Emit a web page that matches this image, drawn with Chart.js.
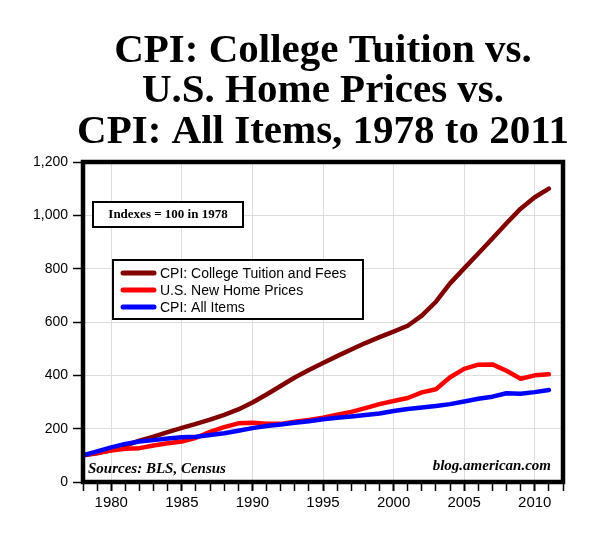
<!DOCTYPE html>
<html>
<head>
<meta charset="utf-8">
<script src="https://cdn.jsdelivr.net/npm/chart.js@4.4.0/dist/chart.umd.min.js"></script>
<style>
html,body{margin:0;padding:0;background:#fff;}
#wrap{width:610px;height:542px;position:relative;}
</style>
</head>
<body>
<div id="wrap"><canvas id="c"></canvas></div>
<script>
const years = [1978,1979,1980,1981,1982,1983,1984,1985,1986,1987,1988,1989,1990,1991,1992,1993,1994,1995,1996,1997,1998,1999,2000,2001,2002,2003,2004,2005,2006,2007,2008,2009,2010,2011];
const tuition = [100,108,120,136,155,170,187,203,218,234,252,272,298,328,360,392,420,446,472,497,521,543,564,586,624,676,745,801,857,913,970,1025,1068,1100];
const homePrices = [100,110,118,125,127,137,145,152,166,188,206,220,222,218,218,226,233,241,252,263,277,292,304,315,336,348,393,424,440,441,417,387,400,404];
const cpiAll = [100,115,130,143,152,157,163,168,170,176,183,192,202,210,216,222,228,235,241,246,251,257,266,274,279,285,292,302,312,320,333,331,337,345];
const seriesLabels = ["CPI: College Tuition and Fees", "U.S. New Home Prices", "CPI: All Items"];
const seriesColors = ["#800000", "#ff0000", "#0000ff"];
const titleLines = ["CPI: College Tuition vs.", "U.S. Home Prices vs.", "CPI: All Items, 1978 to 2011"];
const noteText = "Indexes = 100 in 1978";
const sourceText = "Sources: BLS, Census";
const creditText = "blog.american.com";
const yMin = 0, yMax = 1200, yStep = 200;
const xMin = 1978, xMax = 2012, xLabelStep = 5;

const toPts = arr => years.map((y, i) => ({x: y, y: arr[i]}));
const seriesData = [tuition, homePrices, cpiAll];

const decor = {
  id: 'decor',
  beforeDraw(chart) {
    const ctx = chart.ctx;
    ctx.save();
    ctx.fillStyle = '#fff';
    ctx.fillRect(0, 0, chart.width, chart.height);
    ctx.restore();
  },
  afterDatasetsDraw(chart) {
    const ctx = chart.ctx;
    const ca = chart.chartArea;
    ctx.save();
    // frame
    ctx.strokeStyle = '#000';
    ctx.lineWidth = 4.5;
    ctx.strokeRect(ca.left, ca.top, ca.right - ca.left, ca.bottom - ca.top);

    // title
    ctx.fillStyle = '#000';
    ctx.textAlign = 'center';
    ctx.textBaseline = 'alphabetic';
    ctx.font = 'bold 41px "Liberation Serif", "DejaVu Serif", serif';
    const tb = [62, 102, 143];
    titleLines.forEach((t, i) => ctx.fillText(t, 323, tb[i]));

    // note box
    ctx.lineWidth = 2;
    ctx.fillStyle = '#fff';
    ctx.fillRect(ca.left + 10, ca.top + 40, 150, 25);
    ctx.strokeRect(ca.left + 10, ca.top + 40, 150, 25);
    ctx.fillStyle = '#000';
    ctx.font = 'bold 13px "Liberation Serif", serif';
    ctx.textBaseline = 'middle';
    ctx.fillText(noteText, ca.left + 85, ca.top + 53);

    // legend box
    const lx = ca.left + 30, ly = ca.top + 98, lw = 250, lh = 59;
    ctx.fillStyle = '#fff';
    ctx.fillRect(lx, ly, lw, lh);
    ctx.strokeRect(lx, ly, lw, lh);
    ctx.font = '14px "Liberation Sans", Arial, sans-serif';
    ctx.textAlign = 'left';
    seriesLabels.forEach((lab, i) => {
      const yy = ly + 13 + i * 17;
      ctx.strokeStyle = seriesColors[i];
      ctx.lineWidth = 5;
      ctx.lineCap = 'round';
      ctx.beginPath();
      ctx.moveTo(lx + 10, yy);
      ctx.lineTo(lx + 41, yy);
      ctx.stroke();
      ctx.fillStyle = '#000';
      ctx.fillText(lab, lx + 47, yy + 1);
    });

    // sources / credit
    ctx.font = 'italic bold 15px "Liberation Serif", serif';
    ctx.textBaseline = 'alphabetic';
    ctx.textAlign = 'left';
    ctx.fillStyle = '#000';
    ctx.fillText(sourceText, ca.left + 5, ca.bottom - 9);
    ctx.textAlign = 'right';
    ctx.fillText(creditText, ca.right - 12, ca.bottom - 12);
    ctx.restore();
  }
};

new Chart(document.getElementById('c'), {
  type: 'line',
  data: {
    datasets: seriesLabels.map((lab, i) => ({
      label: lab,
      data: toPts(seriesData[i]),
      borderColor: seriesColors[i],
      backgroundColor: seriesColors[i],
      borderWidth: 4.5,
      pointRadius: 0,
      tension: 0,
      borderCapStyle: 'round',
      borderJoinStyle: 'round',
      order: 3 - i
    }))
  },
  options: {
    responsive: true,
    maintainAspectRatio: false,
    animation: false,
    layout: {padding: {top: 162, right: 47, left: 0, bottom: 0}},
    plugins: {legend: {display: false}, title: {display: false}, tooltip: {enabled: false}},
    scales: {
      x: {
        type: 'linear',
        min: xMin, max: xMax,
        afterFit: s => { s.height = 60; },
        ticks: {
          stepSize: 1, autoSkip: false, maxRotation: 0,
          color: '#000',
          font: {family: '"Liberation Sans", Arial, sans-serif', size: 15},
          padding: 3,
          callback: v => (v % xLabelStep === 0 && v < xMax) ? String(v) : ''
        },
        grid: {
          color: c => (c.tick && c.tick.value % xLabelStep === 0) ? '#dddddd' : 'rgba(0,0,0,0)',
          tickColor: '#000',
          tickLength: 9,
          tickWidth: c => (c.tick && c.tick.value % xLabelStep === 0) ? 2 : 1.5,
          drawTicks: true
        },
        border: {display: false}
      },
      y: {
        min: yMin, max: yMax,
        afterFit: s => { s.width = 83; },
        ticks: {
          stepSize: yStep,
          color: '#000',
          font: {family: '"Liberation Sans", Arial, sans-serif', size: 14},
          padding: 5,
          callback: v => v.toLocaleString('en-US')
        },
        grid: {color: '#dddddd', tickColor: '#000', tickLength: 10, tickWidth: 1.5},
        border: {display: false}
      }
    }
  },
  plugins: [decor]
});
</script>
</body>
</html>
